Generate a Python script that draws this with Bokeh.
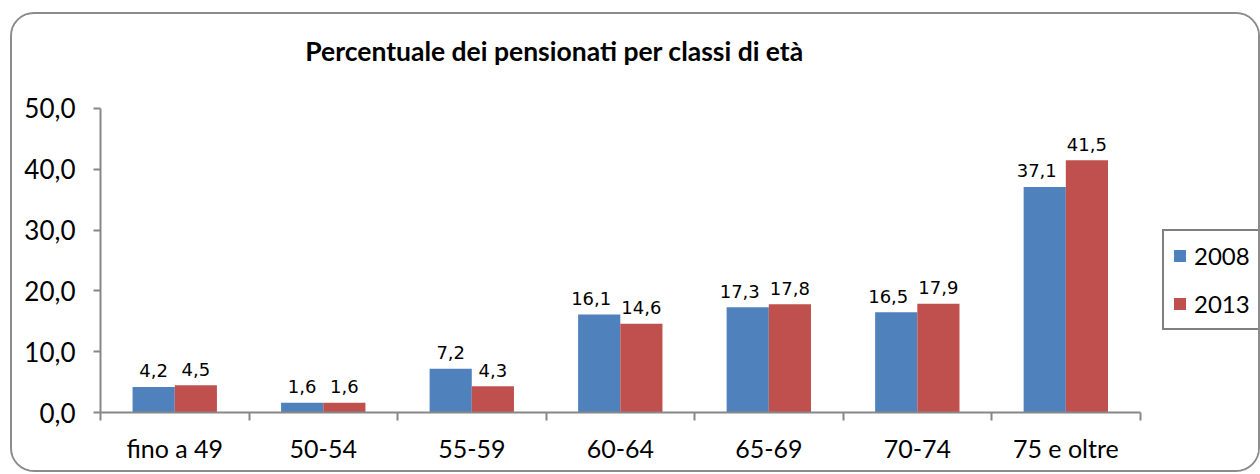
from bokeh.plotting import figure
from bokeh.models import (Range1d, FixedTicker, ColumnDataSource, Legend, LegendItem, Label)
from bokeh.transform import dodge
from bokeh.core.properties import value
from bokeh.embed import file_html
from bokeh.resources import INLINE

categories = ["fino a 49", "50-54", "55-59", "60-64", "65-69", "70-74", "75 e oltre"]
values_2008 = [4.2, 1.6, 7.2, 16.1, 17.3, 16.5, 37.1]
values_2013 = [4.5, 1.6, 4.3, 14.6, 17.8, 17.9, 41.5]
series_names = ["2008", "2013"]
y_ticks = [0, 10, 20, 30, 40, 50]
y_tick_labels = ["0,0", "10,0", "20,0", "30,0", "40,0", "50,0"]
title_text = "Percentuale dei pensionati per classi di età"

BLUE = "#4F81BD"
RED = "#C0504D"
AXIS = "#878787"
LABEL_FONT = "Lato"
DATA_FONT = "DejaVu Sans"

# canvas (inside the rounded chart border)
W, H = 1246, 456
LEFT, BOTTOM = 88, 62
PLOT_W, PLOT_H = 1036, 301     # pixel extent of the category axis / value axis
n = len(categories)
y_max = y_ticks[-1]
x_end = n * (W - LEFT) / PLOT_W
y_end = y_max * (H - BOTTOM) / PLOT_H
centers = [i + 0.5 for i in range(n)]

def fmt(v):
    return f"{v:.1f}".replace(".", ",")

src = ColumnDataSource(dict(
    x=centers,
    v08=values_2008,
    v13=values_2013,
    l08=[fmt(v) for v in values_2008],
    l13=[fmt(v) for v in values_2013],
    o08=[-8 if len(fmt(v)) > 3 else 0 for v in values_2008],
))

p = figure(width=W, height=H, output_backend="svg", toolbar_location=None,
           x_range=Range1d(0, x_end), y_range=Range1d(0, y_end),
           min_border_left=LEFT, min_border_right=0, min_border_top=0,
           min_border_bottom=BOTTOM)
p.title = None
p.outline_line_color = None
p.grid.visible = False
p.background_fill_color = "white"
p.border_fill_color = "white"
p.margin = (12, 0, 0, 10)
p.styles = {"border": "2px solid #8c8c8c", "border-radius": "24px",
            "box-sizing": "content-box", "overflow": "hidden"}

bw = 0.284
r08 = p.vbar(x=dodge("x", -bw / 2, range=p.x_range), top="v08", width=bw, source=src,
             fill_color=BLUE, line_color=None)
r13 = p.vbar(x=dodge("x", bw / 2, range=p.x_range), top="v13", width=bw, source=src,
             fill_color=RED, line_color=None)

p.text(x=dodge("x", -bw / 2, range=p.x_range), y="v08", text="l08", source=src,
       x_offset="o08", y_offset=-16, text_align="center", text_baseline="alphabetic",
       text_font=value(DATA_FONT), text_font_size="18px", text_color="black")
p.text(x=dodge("x", bw / 2, range=p.x_range), y="v13", text="l13", source=src,
       y_offset=-16, text_align="center", text_baseline="alphabetic",
       text_font=value(DATA_FONT), text_font_size="18px", text_color="black")

# x axis: labels at centers, ticks at category boundaries
xa = p.xaxis[0]
xa.bounds = (0, n)
xa.ticker = FixedTicker(ticks=centers, minor_ticks=list(range(n + 1)))
xa.major_label_overrides = {c: lab for c, lab in zip(centers, categories)}
xa.major_tick_out = 0
xa.major_tick_in = 0
xa.minor_tick_out = 8
xa.minor_tick_in = 0
xa.minor_tick_line_color = AXIS
xa.minor_tick_line_width = 2
xa.axis_line_color = AXIS
xa.axis_line_width = 2
xa.major_label_standoff = 12
xa.major_label_text_font = LABEL_FONT
xa.major_label_text_font_size = "25px"
xa.major_label_text_color = "black"

ya = p.yaxis[0]
ya.bounds = (0, y_max)
ya.ticker = FixedTicker(ticks=y_ticks, minor_ticks=[])
ya.major_label_overrides = {t: lab for t, lab in zip(y_ticks, y_tick_labels)}
ya.major_tick_out = 7
ya.major_tick_in = 0
ya.major_tick_line_color = AXIS
ya.major_tick_line_width = 2
ya.minor_tick_line_color = None
ya.axis_line_color = AXIS
ya.axis_line_width = 2
ya.major_label_standoff = 18
ya.major_label_text_font = LABEL_FONT
ya.major_label_text_font_size = "26px"
ya.major_label_text_color = "black"

title = Label(text=title_text, x=454, y=362, x_units="screen", y_units="screen",
              text_align="center", text_baseline="alphabetic", text_font=LABEL_FONT,
              text_font_style="bold", text_font_size="26.5px", text_color="black")
p.add_layout(title)

legend = Legend(items=[LegendItem(label=series_names[0], renderers=[r08]),
                       LegendItem(label=series_names[1], renderers=[r13])],
                location=(1062, 82), orientation="vertical",
                border_line_color="black", border_line_width=2,
                padding=8, spacing=15, label_height=33, label_width=60,
                glyph_width=15, glyph_height=15,
                label_standoff=7, label_text_font=LABEL_FONT, label_text_font_size="24px",
                label_text_color="black", background_fill_color="white",
                background_fill_alpha=1, margin=0)
p.add_layout(legend)

open("out.html", "w").write(file_html(p, INLINE))
